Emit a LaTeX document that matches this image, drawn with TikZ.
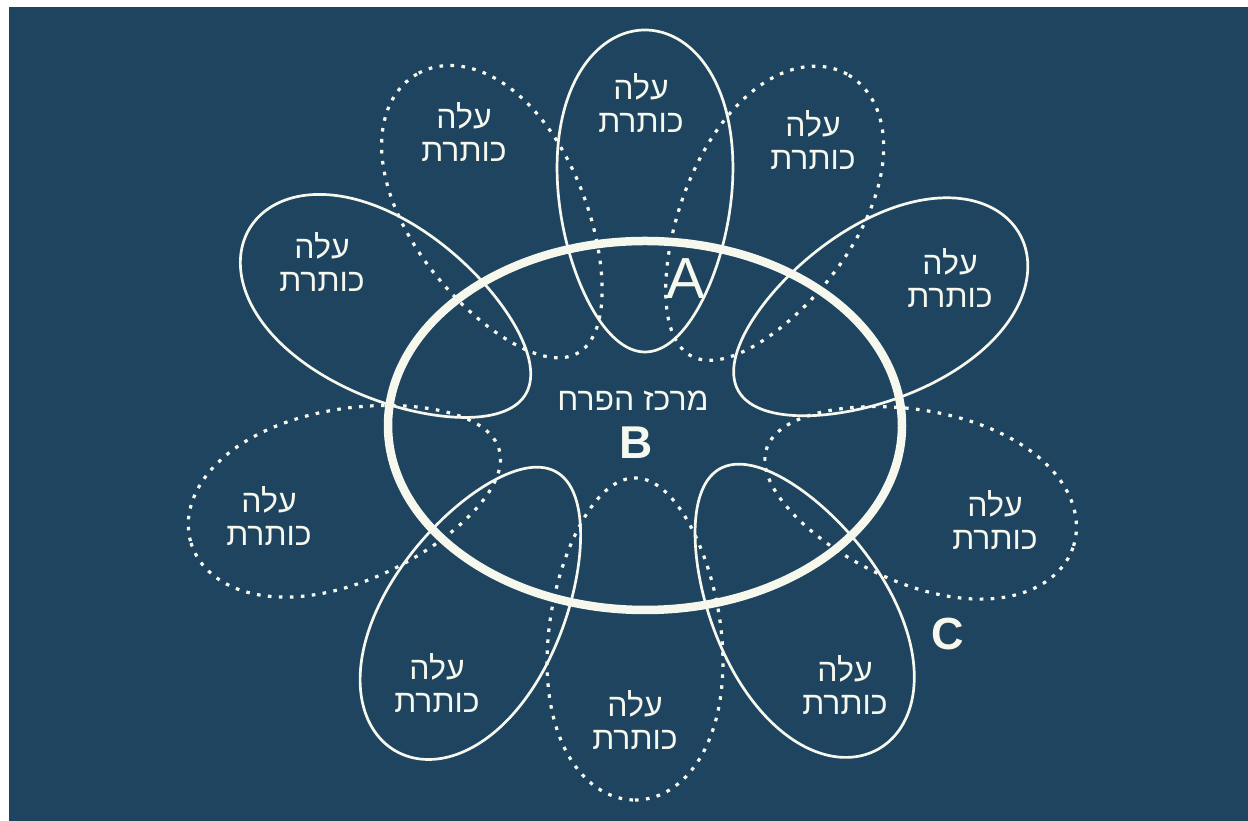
\documentclass[tikz,border=0pt]{standalone}
\usepackage{fontspec}
\setmainfont{Liberation Sans}
\newfontfamily\heb[Script=Hebrew]{Liberation Sans}
\TeXXeTstate=1
\definecolor{bg}{RGB}{30,68,96}
\definecolor{ln}{RGB}{246,248,238}
\newcommand\drawpetal[4]{%
  \begin{scope}[shift={(#1,#2)}, rotate=#3]
    \draw[#4] plot[domain=0:360, samples=180] ({161*cos(\x)}, {87*sin(\x)*(1+0.15*cos(\x))}) -- cycle;
  \end{scope}}
\begin{document}
\begin{tikzpicture}[x=1pt,y=1pt,
  petalsolid/.style={draw=ln, line width=2.7pt},
  petaldot/.style={draw=ln, line width=3.2pt, dash pattern=on 3.6pt off 7.4pt},
  lbl/.style={text=ln, font=\heb\fontsize{32}{33}\selectfont, align=center, inner sep=0pt},
  big/.style={text=ln, inner sep=0pt}]
\useasboundingbox (0,0) rectangle (1248,821);
\fill[white] (0,0) rectangle (1248,821);
\fill[bg] (9,-5) rectangle (1255,814);
% petals
\drawpetal{645}{630}{90}{petalsolid}
\drawpetal{497.5}{607.5}{120}{petaldot}
\drawpetal{769}{606}{61}{petaldot}
\drawpetal{387.5}{509.5}{149}{petalsolid}
\drawpetal{879}{508.5}{29}{petalsolid}
\drawpetal{345}{325}{197}{petaldot}
\drawpetal{920}{323.5}{342.5}{petaldot}
\drawpetal{476}{209.5}{240}{petalsolid}
\drawpetal{799}{212}{299.5}{petalsolid}
\drawpetal{635}{182}{270}{petaldot}
% center ring
\draw[ln, line width=8.5pt] (645,395.5) ellipse [x radius=257, y radius=184.5];
% labels
\node[lbl] (tT)  at (641,718) {\beginR עלה\endR\\\beginR כותרת\endR};
\node[lbl] (tTL) at (464,689) {\beginR עלה\endR\\\beginR כותרת\endR};
\node[lbl] (tTR) at (813,681) {\beginR עלה\endR\\\beginR כותרת\endR};
\node[lbl] (tL)  at (322,559) {\beginR עלה\endR\\\beginR כותרת\endR};
\node[lbl] (tR)  at (950,543) {\beginR עלה\endR\\\beginR כותרת\endR};
\node[lbl] (tLL) at (269,305) {\beginR עלה\endR\\\beginR כותרת\endR};
\node[lbl] (tRL) at (995,301) {\beginR עלה\endR\\\beginR כותרת\endR};
\node[lbl] (tBL) at (437,138) {\beginR עלה\endR\\\beginR כותרת\endR};
\node[lbl] (tBR) at (845,136) {\beginR עלה\endR\\\beginR כותרת\endR};
\node[lbl] (tB)  at (635,101) {\beginR עלה\endR\\\beginR כותרת\endR};
\node[lbl] (ctr) at (633,420) {\beginR מרכז הפרח\endR};
\node[big, font=\bfseries\fontsize{46}{46}\selectfont] (lB) at (636,378) {B};
\node[big, font=\fontsize{58}{58}\selectfont] (lA) at (686,542) {A};
\node[big, font=\bfseries\fontsize{45}{45}\selectfont] (lC) at (948,187) {C};
\end{tikzpicture}
\end{document}
